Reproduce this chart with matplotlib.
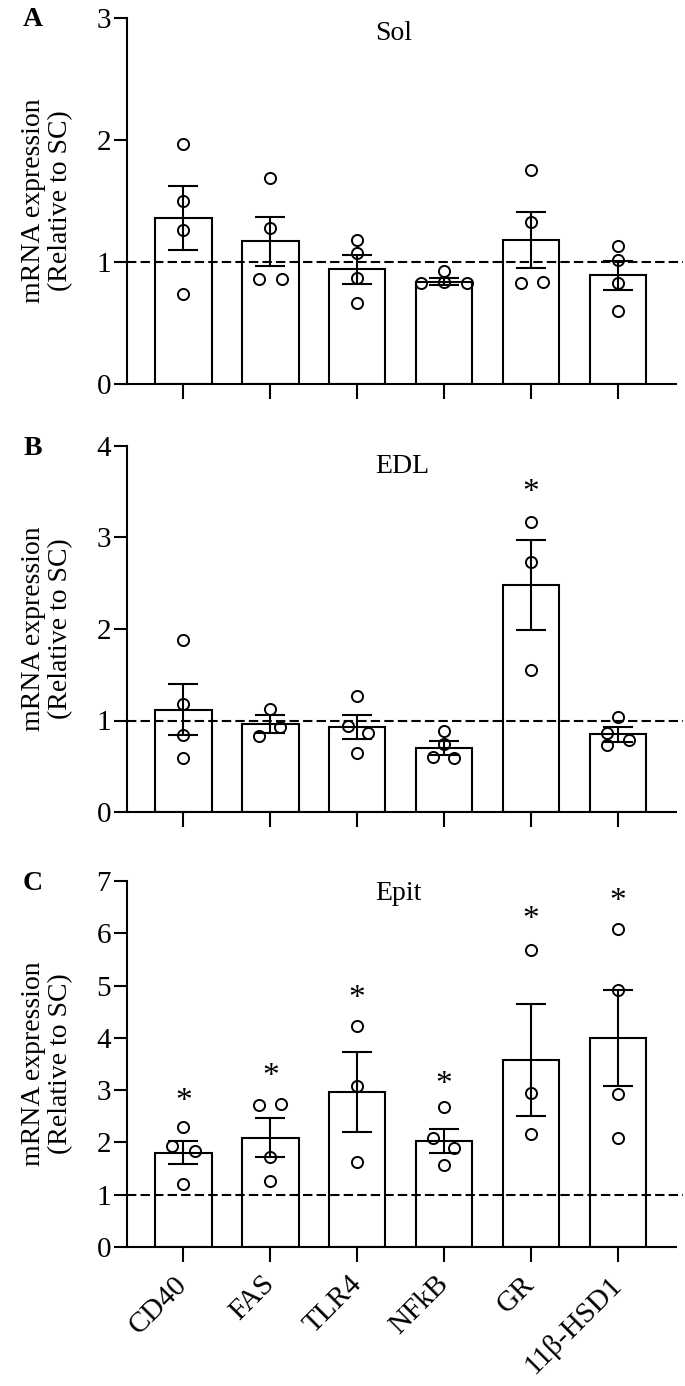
import matplotlib
matplotlib.use('Agg')
import matplotlib.pyplot as plt
import numpy as np

plt.rcParams['font.family'] = ['Liberation Serif', 'DejaVu Serif']

genes = ['CD40', 'FAS', 'TLR4', 'NFkB', 'GR', '11β-HSD1']
titles = ['Sol', 'EDL', 'Epit']
letters = ['A', 'B', 'C']
ymax = [3, 4, 7]

# bar heights (mean) and SEM
sol_mean = [1.36, 1.17, 0.94, 0.84, 1.18, 0.89]
sol_sem = [0.26, 0.20, 0.12, 0.03, 0.23, 0.12]
edl_mean = [1.12, 0.96, 0.93, 0.70, 2.48, 0.85]
edl_sem = [0.28, 0.10, 0.13, 0.08, 0.49, 0.08]
epit_mean = [1.80, 2.09, 2.96, 2.03, 3.58, 3.99]
epit_sem = [0.22, 0.37, 0.76, 0.23, 1.07, 0.92]

# individual animals
sol_pts = [[1.97, 1.50, 1.26, 0.74], [1.69, 1.28, 0.86, 0.86], [1.18, 1.07, 0.87, 0.66],
           [0.93, 0.84, 0.83, 0.83], [1.75, 1.33, 0.83, 0.84], [1.13, 1.02, 0.83, 0.60]]
edl_pts = [[1.88, 1.18, 0.84, 0.59], [1.13, 0.93, 0.83], [1.27, 0.94, 0.86, 0.64],
           [0.89, 0.74, 0.60, 0.59], [3.17, 2.73, 1.55], [1.04, 0.86, 0.79, 0.73]]
epit_pts = [[2.29, 1.94, 1.83, 1.20], [2.72, 2.73, 1.72, 1.27], [4.23, 3.07, 1.63],
            [2.68, 2.08, 1.89, 1.57], [5.68, 2.95, 2.16], [6.09, 4.91, 2.93, 2.08]]

# horizontal scatter of the dots (fraction of bar spacing)
sol_jit = [[0, 0, 0, 0], [0, 0, -0.13, 0.13], [0, 0, 0, 0],
           [0, 0, -0.26, 0.26], [0, 0, -0.12, 0.14], [0, 0, 0, 0]]
edl_jit = [[0, 0, 0, 0], [0, 0.11, -0.13], [0, -0.11, 0.13, 0],
           [0, 0, -0.13, 0.12], [0, 0, 0], [0, -0.12, 0.13, -0.13]]
epit_jit = [[0, -0.13, 0.13, 0], [-0.13, 0.12, 0, 0], [0, 0, 0],
            [0, -0.13, 0.12, 0], [0, 0, 0], [0, 0, 0, 0]]

# significance stars: height per gene (None = no star)
sol_star = [None] * 6
edl_star = [None, None, None, None, 3.54, None]
epit_star = [2.87, 3.35, 4.84, 3.19, 6.35, 6.70]

means = [sol_mean, edl_mean, epit_mean]
sems = [sol_sem, edl_sem, epit_sem]
pts = [sol_pts, edl_pts, epit_pts]
jits = [sol_jit, edl_jit, epit_jit]
stars = [sol_star, edl_star, epit_star]

W, H = 685, 1386
fig = plt.figure(figsize=(W / 100, H / 100), dpi=100)

left, right = 127, 676
tops = [18, 446, 881]
title_y = [0.959, 0.943, 0.967]
axh = 366
x = np.arange(len(genes))

for i in range(3):
    ax = fig.add_axes([left / W, 1 - (tops[i] + axh) / H, (right - left) / W, axh / H])
    ax.bar(x, means[i], width=0.65, color='white', edgecolor='black', linewidth=1.5, zorder=2)
    ax.errorbar(x, means[i], yerr=sems[i], fmt='none', ecolor='black', elinewidth=1.5,
                capsize=10.5, capthick=1.5, zorder=3)
    for j in range(len(genes)):
        xs = x[j] + np.array(jits[i][j])
        ax.plot(xs, pts[i][j], 'o', mfc='none', mec='black', mew=1.4, ms=8, zorder=4)
        if stars[i][j] is not None:
            ax.annotate('*', (x[j], stars[i][j]), xytext=(0, -5), textcoords='offset pixels',
                        ha='center', va='center', fontsize=24, zorder=5)
    ax.axhline(1, xmin=0, xmax=1.012, color='black', linestyle=(0, (4.5, 2)), linewidth=1.5,
               clip_on=False, zorder=6)

    ax.set_xlim(-0.65, 5.67)
    ax.set_ylim(0, ymax[i])
    ax.set_yticks(range(ymax[i] + 1))
    ax.set_xticks(x)
    for s in ['top', 'right']:
        ax.spines[s].set_visible(False)
    for s in ['left', 'bottom']:
        ax.spines[s].set_linewidth(1.5)
    ax.tick_params(axis='y', length=9.5, width=1.5, labelsize=21, pad=2)
    ax.tick_params(axis='x', length=11, width=1.5, labelsize=21, pad=13)
    if i < 2:
        ax.set_xticklabels([])
    else:
        ax.set_xticklabels(genes, rotation=45, ha='right', va='center', rotation_mode='anchor')
    ax.text(0.452, title_y[i], titles[i], transform=ax.transAxes, ha='left', va='center',
            fontsize=20)

    yc = 1 - (tops[i] + axh / 2) / H
    fig.text(47 / W, yc, 'mRNA expression\n(Relative to SC)', rotation=90, ha='center',
             va='center', fontsize=20, linespacing=1.1)
    fig.text(33 / W, 1 - (tops[i] + 2) / H, letters[i], ha='center', va='center',
             fontsize=20, fontweight='bold')

fig.savefig('out.png', dpi=100)
